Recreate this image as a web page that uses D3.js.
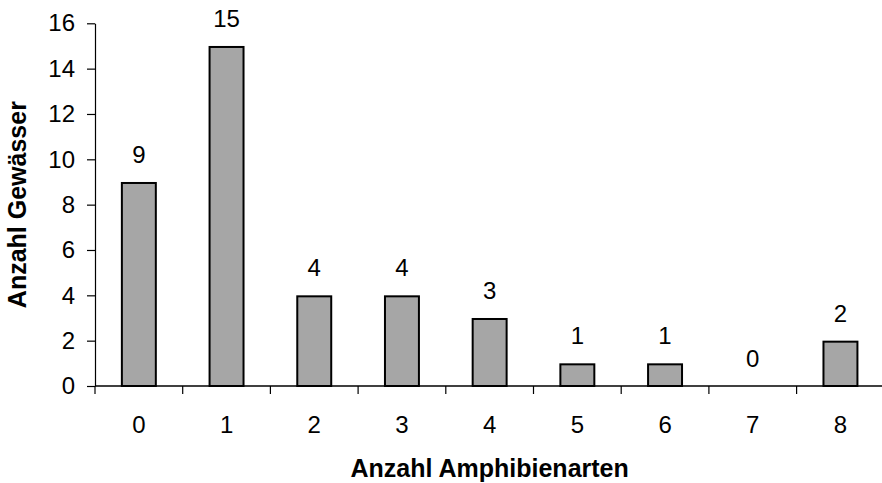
<!DOCTYPE html>
<html>
<head>
<meta charset="utf-8">
<script src="https://cdn.jsdelivr.net/npm/d3@7"></script>
<style>
  html, body { margin: 0; padding: 0; background: #fff; }
  svg { display: block; font-family: "Liberation Sans", Arial, Helvetica, sans-serif; }
</style>
</head>
<body>
<svg id="chart" width="882" height="483"></svg>
<script>
const categories = ["0", "1", "2", "3", "4", "5", "6", "7", "8"];
const values = [9, 15, 4, 4, 3, 1, 1, 0, 2];
const yTicks = [0, 2, 4, 6, 8, 10, 12, 14, 16];
const xTitle = "Anzahl Amphibienarten";
const yTitle = "Anzahl Gewässer";

(function () {
const svg = d3.select("#chart");
const mLeft = 95, mRight = 884.3, mTop = 23.3, mBottom = 386;

const x = d3.scaleBand().domain(categories).range([mLeft, mRight]).paddingInner(0.59).paddingOuter(0.295);
const xb = d3.scaleBand().domain(categories).range([mLeft, mRight]);
const y = d3.scaleLinear().domain([0, 16]).range([mBottom, mTop]);

// Bars
svg.append("g").selectAll("rect")
  .data(values)
  .join("rect")
  .attr("x", (d, i) => x(categories[i]) + 1)
  .attr("width", x.bandwidth() - 2)
  .attr("y", d => y(d) + 1)
  .attr("height", d => Math.max(0, y(0) - y(d) - 1))
  .attr("fill", "#a6a6a6")
  .attr("stroke", "#000")
  .attr("stroke-width", 2)
  .style("display", d => d === 0 ? "none" : null);

// Value labels
svg.append("g").selectAll("text")
  .data(values)
  .join("text")
  .attr("x", (d, i) => xb(categories[i]) + xb.bandwidth() / 2)
  .attr("y", d => y(d) - 19)
  .attr("text-anchor", "middle")
  .attr("font-size", 24)
  .attr("fill", "#000")
  .text(d => d);

// Y axis
const yAxis = svg.append("g")
  .attr("transform", `translate(${mLeft},0)`)
  .call(d3.axisLeft(y).tickValues(yTicks).tickSize(8).tickPadding(12).tickSizeOuter(0));
yAxis.select(".domain").attr("stroke", "#000").attr("stroke-width", 1.2);
yAxis.selectAll(".tick line").attr("stroke", "#000").attr("stroke-width", 1.2);
yAxis.selectAll(".tick text").attr("font-size", 24).attr("fill", "#000")
  .attr("font-family", "Liberation Sans, Arial, sans-serif");

// X axis: line + boundary ticks
const xAxis = svg.append("g")
  .attr("transform", `translate(0,${mBottom})`)
  .call(d3.axisBottom(xb).tickSize(0).tickPadding(0).tickSizeOuter(0));
xAxis.select(".domain").remove();
xAxis.append("line").attr("x1", mLeft).attr("x2", mRight).attr("y1", 0).attr("y2", 0)
  .attr("stroke", "#000").attr("stroke-width", 1.5);
xAxis.selectAll(".tick line").remove();
xAxis.selectAll(".btick")
  .data(categories)
  .join("line")
  .attr("class", "btick")
  .attr("x1", d => xb(d)).attr("x2", d => xb(d))
  .attr("y1", 0).attr("y2", 8)
  .attr("stroke", "#000").attr("stroke-width", 1.2);
xAxis.selectAll(".tick text")
  .attr("font-size", 24).attr("fill", "#000")
  .attr("font-family", "Liberation Sans, Arial, sans-serif")
  .attr("dy", null).attr("y", 47);

// Titles
svg.append("text")
  .attr("x", (mLeft + mRight) / 2)
  .attr("y", 477)
  .attr("text-anchor", "middle")
  .attr("font-size", 25)
  .attr("font-weight", "bold")
  .text(xTitle);

svg.append("text")
  .attr("transform", `translate(26,${(mTop + mBottom) / 2}) rotate(-90)`)
  .attr("text-anchor", "middle")
  .attr("font-size", 25)
  .attr("font-weight", "bold")
  .text(yTitle);
})();
</script>
</body>
</html>
